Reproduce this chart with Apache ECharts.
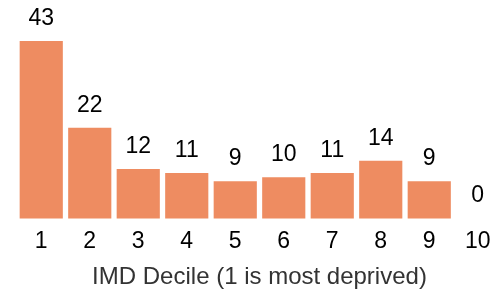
<!DOCTYPE html>
<html>
<head>
<meta charset="utf-8">
<script src="https://cdn.jsdelivr.net/npm/echarts@6/dist/echarts.min.js"></script>
<style>
	html, body { margin: 0; padding: 0; background: #fff; }
	#chart { width: 491px; height: 289px; }
</style>
</head>
<body>
<div id="chart"></div>
<script>
	// 数据
	var deciles = ['1', '2', '3', '4', '5', '6', '7', '8', '9', '10'];
	var counts = [43, 22, 12, 11, 9, 10, 11, 14, 9, 0];

	var myChart = echarts.init(document.getElementById('chart'));
	myChart.setOption({
		animation: false,
		textStyle: {fontFamily: 'Liberation Sans, Arial, sans-serif'},
		grid: {left: 17, width: 485, top: 41, height: 177.5, containLabel: false, outerBoundsMode: 'none'},
		xAxis: {
			type: 'category',
			data: deciles,
			name: 'IMD Decile (1 is most deprived)',
			nameLocation: 'middle',
			nameGap: 47,
			nameTextStyle: {fontSize: 24, color: '#333'},
			axisLine: {show: false},
			axisTick: {show: false},
			axisLabel: {fontSize: 23, color: '#000', margin: 12}
		},
		yAxis: {
			type: 'value',
			min: 0,
			max: 43,
			show: false,
			splitLine: {show: false}
		},
		series: [{
			type: 'bar',
			data: counts,
			barCategoryGap: '11%',
			itemStyle: {color: '#EE8C61'},
			label: {show: true, position: 'top', distance: 11, fontSize: 23, color: '#000'}
		}]
	});
</script>
</body>
</html>
